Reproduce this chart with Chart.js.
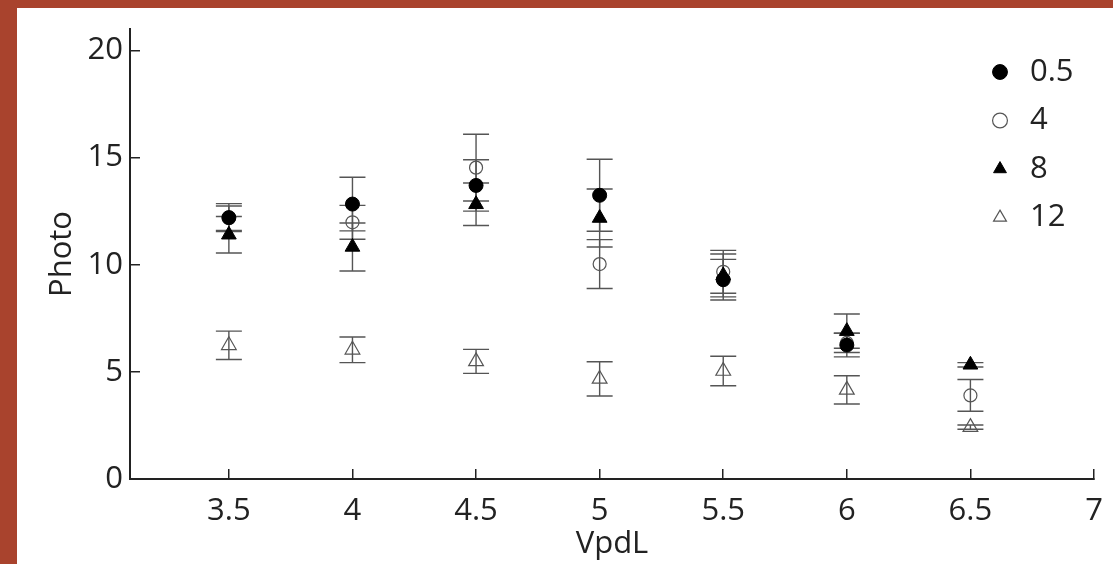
<!DOCTYPE html>
<html>
<head>
<meta charset="utf-8">
<script src="https://cdn.jsdelivr.net/npm/chart.js@4.4.1/dist/chart.umd.min.js"></script>
<style>
    html, body { margin: 0; padding: 0; background: #ffffff; }
    #frame {
        position: absolute;
        left: 0;
        top: 0;
        width: 1096px;
        height: 556px;
        border-left: 17px solid #a9432d;
        border-top: 8px solid #a9432d;
        background: #ffffff;
    }
    canvas { display: block; }
</style>
</head>
<body>
<div id="frame"><canvas id="photoChart" width="1096" height="556"></canvas></div>
<script>
// VpdL levels (x) and tick values
var vpd = [3.5, 4, 4.5, 5, 5.5, 6, 6.5];
var xTicks = [3.5, 4, 4.5, 5, 5.5, 6, 6.5, 7];
var yTicks = [0, 5, 10, 15, 20];

// Photo means and error bars per series
var photo05 = [12.2, 12.83, 13.7, 13.24, 9.3, 6.25, null];
var err05 = [0.65, 1.25, 1.2, 1.68, 0.95, 0.55, null];
var photo4 = [12.17, 11.98, 14.53, 10.03, 9.67, 6.35, 3.9];
var err4 = [0.57, 0.79, 1.56, 1.14, 1.0, 0.45, 0.74];
var photo8 = [11.4, 10.83, 12.82, 12.18, 9.5, 6.9, 5.33];
var err8 = [0.85, 1.12, 0.99, 1.35, 1.0, 0.8, 0.1];
var photo12 = [6.24, 6.03, 5.49, 4.67, 5.04, 4.16, 2.42];
var err12 = [0.66, 0.6, 0.56, 0.8, 0.69, 0.66, 0.1];

function points(values) {
    return vpd.map(function (x, i) {
        return { x: x, y: values[i] };
    });
}

var errorBars = {
    id: "errorBars",
    beforeDatasetsDraw: function (chart) {
        var ctx = chart.ctx;
        var xs = chart.scales.x;
        var ys = chart.scales.y;
        ctx.save();
        ctx.strokeStyle = "#555555";
        ctx.lineWidth = 1.4;
        chart.data.datasets.forEach(function (ds) {
            ds.data.forEach(function (p, i) {
                var e = ds.errors[i];
                if (p.y === null || e === null) return;
                var px = xs.getPixelForValue(p.x);
                var top = ys.getPixelForValue(p.y + e);
                var bot = ys.getPixelForValue(p.y - e);
                ctx.beginPath();
                ctx.moveTo(px, top);
                ctx.lineTo(px, bot);
                ctx.moveTo(px - 13, top);
                ctx.lineTo(px + 13, top);
                ctx.moveTo(px - 13, bot);
                ctx.lineTo(px + 13, bot);
                ctx.stroke();
            });
        });
        ctx.restore();
    },
};

// move the legend to the upper right corner of the plot area
var legendSpot = {
    id: "legendSpot",
    afterLayout: function (chart) {
        chart.legend.left = 951;
        chart.legend.top = 31;
    },
};

var font = "'Open Sans', 'DejaVu Sans', sans-serif";

var photoChart = new Chart(document.getElementById("photoChart").getContext("2d"), {
    type: "scatter",
    data: {
        datasets: [
            {
                label: "0.5",
                data: points(photo05),
                errors: err05,
                pointStyle: "circle",
                pointRadius: 7,
                backgroundColor: "#000000",
                borderColor: "#000000",
                borderWidth: 1,
            },
            {
                label: "4",
                data: points(photo4),
                errors: err4,
                pointStyle: "circle",
                pointRadius: 6.5,
                backgroundColor: "rgba(0, 0, 0, 0)",
                borderColor: "#555555",
                borderWidth: 1.2,
            },
            {
                label: "8",
                data: points(photo8),
                errors: err8,
                pointStyle: "triangle",
                pointRadius: 8.5,
                backgroundColor: "#000000",
                borderColor: "#000000",
                borderWidth: 1,
            },
            {
                label: "12",
                data: points(photo12),
                errors: err12,
                pointStyle: "triangle",
                pointRadius: 8.5,
                backgroundColor: "rgba(0, 0, 0, 0)",
                borderColor: "#555555",
                borderWidth: 1.2,
            },
        ],
    },
    options: {
        responsive: false,
        animation: false,
        devicePixelRatio: 1,
        layout: {
            padding: { left: 0, top: 21, right: 19, bottom: 0 },
        },
        scales: {
            x: {
                type: "linear",
                min: 3.1,
                max: 7,
                afterBuildTicks: function (scale) {
                    scale.ticks = xTicks.map(function (v) { return { value: v }; });
                },
                afterFit: function (scale) {
                    scale.height = 85;
                    scale.paddingLeft = 0;
                    scale.paddingRight = 0;
                },
                border: { color: "#222222", width: 2 },
                grid: {
                    drawOnChartArea: false,
                    tickLength: -10,
                    color: "#222222",
                    lineWidth: 1.5,
                },
                ticks: {
                    padding: 24,
                    maxRotation: 0,
                    color: "#222222",
                    font: { family: font, size: 31 },
                    callback: function (value) {
                        return String(value);
                    },
                },
                title: {
                    display: true,
                    text: "VpdL",
                    color: "#222222",
                    font: { family: font, size: 31 },
                    padding: { top: 0, bottom: 1 },
                },
            },
            y: {
                min: 0,
                max: 21,
                afterBuildTicks: function (scale) {
                    scale.ticks = yTicks.map(function (v) { return { value: v }; });
                },
                afterFit: function (scale) {
                    scale.width = 113;
                    scale.paddingTop = 0;
                    scale.paddingBottom = 0;
                },
                border: { color: "#222222", width: 2 },
                grid: {
                    drawOnChartArea: false,
                    tickLength: -10,
                    color: "#222222",
                    lineWidth: 1.5,
                },
                ticks: {
                    padding: 17,
                    color: "#222222",
                    font: { family: font, size: 31 },
                    callback: function (value) {
                        return String(value);
                    },
                },
                title: {
                    display: true,
                    text: "Photo",
                    color: "#222222",
                    font: { family: font, size: 31 },
                    padding: { top: 27, bottom: 0 },
                },
            },
        },
        plugins: {
            tooltip: { enabled: false },
            legend: {
                position: "chartArea",
                align: "start",
                labels: {
                    usePointStyle: true,
                    boxWidth: 29,
                    boxHeight: 10.5,
                    padding: 17.5,
                    color: "#222222",
                    font: { family: font, size: 31 },
                },
            },
        },
    },
    plugins: [errorBars, legendSpot],
});
</script>
</body>
</html>
